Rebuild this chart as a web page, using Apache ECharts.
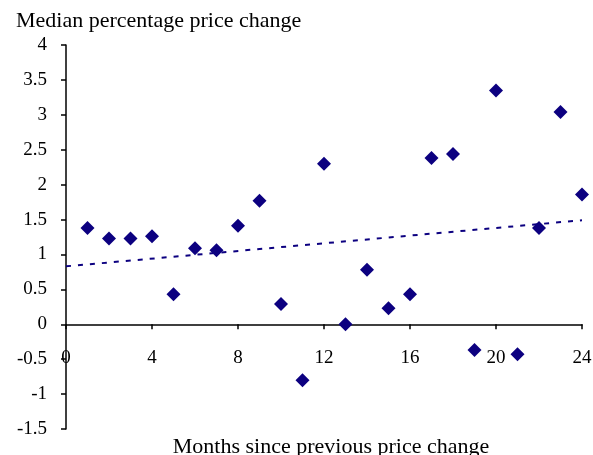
<!DOCTYPE html>
<html>
<head>
<meta charset="utf-8">
<script src="https://cdn.jsdelivr.net/npm/echarts@6/dist/echarts.min.js"></script>
<style>
  html, body { margin: 0; padding: 0; background: #ffffff; }
  #chart { width: 593px; height: 455px; }
</style>
</head>
<body>
<div id="chart"></div>
<script>
const months = [1, 2, 3, 4, 5, 6, 7, 8, 9, 10, 11, 12, 13, 14, 15, 16, 17, 18, 19, 20, 21, 22, 23, 24];
const medianChange = [1.38, 1.23, 1.23, 1.26, 0.43, 1.09, 1.06, 1.41, 1.77, 0.29, -0.80, 2.30,
    0.00, 0.78, 0.23, 0.43, 2.38, 2.44, -0.37, 3.35, -0.43, 1.38, 3.04, 1.86];
const trendX = [0, 24];
const trendY = [0.83, 1.49];
const xTicks = [0, 4, 8, 12, 16, 20, 24];

const font = "'Liberation Serif', 'Times New Roman', serif";
const navy = "#0c0080";

const chart = echarts.init(document.getElementById("chart"));

const option = {
    backgroundColor: "#ffffff",
    animation: false,
    title: [
        {
            text: "Median percentage price change",
            left: 11,
            top: 5,
            textStyle: { fontFamily: font, fontSize: 22, fontWeight: "normal", color: "#000" },
        },
        {
            text: "Months since previous price change",
            left: 326,
            textAlign: "center",
            top: 431,
            textStyle: { fontFamily: font, fontSize: 22, fontWeight: "normal", color: "#000" },
        },
    ],
    grid: { left: 66, right: 11, top: 45, bottom: 26, outerBoundsMode: "none" },
    xAxis: {
        type: "value",
        min: xTicks[0],
        max: xTicks[xTicks.length - 1],
        interval: 4,
        splitLine: { show: false },
        axisLine: { onZero: true, lineStyle: { color: "#000", width: 1.5 } },
        axisTick: { length: 5, lineStyle: { color: "#000", width: 1.5 } },
        // labels sit well below the zero line, as in the original
        axisLabel: { margin: -80, color: "#000", fontFamily: font, fontSize: 19 },
    },
    yAxis: {
        type: "value",
        min: -1.5,
        max: 4,
        interval: 0.5,
        splitLine: { show: false },
        axisLine: { show: true, onZero: false, lineStyle: { color: "#000", width: 1.5 } },
        axisTick: { show: true, length: 5, lineStyle: { color: "#000", width: 1.5 } },
        axisLabel: { margin: 19, color: "#000", fontFamily: font, fontSize: 19 },
    },
    series: [
        {
            type: "line",
            data: trendX.map((x, i) => [x, trendY[i]]),
            symbol: "none",
            lineStyle: { color: navy, width: 2, type: [5, 7] },
            z: 1,
        },
        {
            type: "scatter",
            data: months.map((m, i) => [m, medianChange[i]]),
            symbol: "diamond",
            symbolSize: 14,
            itemStyle: { color: navy, opacity: 1 },
            z: 2,
        },
    ],
};

chart.setOption(option);
</script>
</body>
</html>
